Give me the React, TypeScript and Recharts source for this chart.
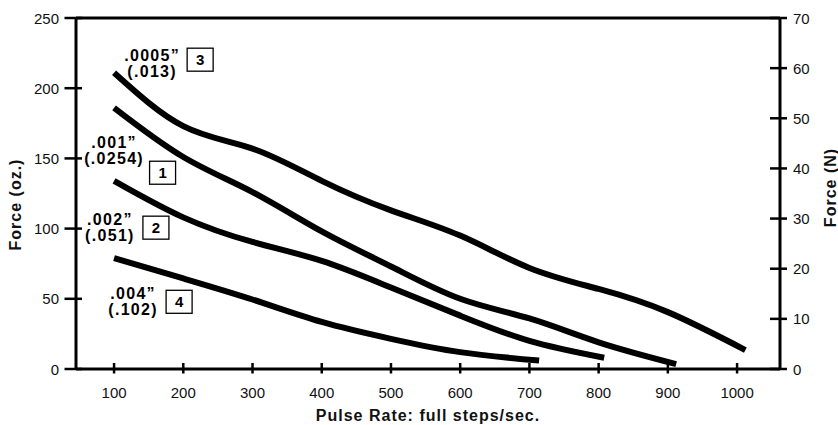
import React from 'react';
import { LineChart, Line, XAxis, YAxis, ReferenceLine, ReferenceDot, Label } from 'recharts';

const FONT = '"Liberation Sans", Arial, Helvetica, sans-serif';

// curve 3 (.0005")
const pulse3 = [100, 200, 300, 400, 500, 600, 700, 800, 900, 1012];
const force3 = [211, 173, 157, 134, 113, 95, 72, 57, 40.5, 13.5];
// curve 1 (.001")
const pulse1 = [100, 200, 300, 400, 500, 600, 700, 800, 912];
const force1 = [186, 151, 126, 98, 73, 50, 36, 19, 3.5];
// curve 2 (.002")
const pulse2 = [100, 200, 300, 400, 500, 600, 700, 808];
const force2 = [134, 108, 90.5, 77, 58, 38, 20, 8];
// curve 4 (.004")
const pulse4 = [100, 200, 300, 400, 500, 600, 714];
const force4 = [79, 64.5, 49.5, 33.5, 21.5, 12, 6];

const xTicks = [100, 200, 300, 400, 500, 600, 700, 800, 900, 1000];
const ozTicks = [0, 50, 100, 150, 200, 250];
const nTicks = [0, 10, 20, 30, 40, 50, 60, 70];
const OZ_TO_N = 0.278;

// curve labels
const labelInch = ['.0005”', '.001”', '.002”', '.004”'];
const labelMm = ['(.013)', '(.0254)', '(.051)', '(.102)'];
const labelNum = ['3', '1', '2', '4'];
const labelPulse = [155, 100, 94, 127.5];
const labelForce = [219.6, 157.6, 102.8, 50];
const boxOffset = [[48, -1], [48.5, 25], [46, 3], [46, 3]];

const toData = (xs: number[], ys: number[]) => xs.map((p, i) => ({ pulse: p, force: ys[i], newton: ys[i] * OZ_TO_N }));
const curves = [toData(pulse3, force3), toData(pulse1, force1), toData(pulse2, force2), toData(pulse4, force4)];

const tickText = { fontFamily: FONT, fontSize: 15, fill: '#111' };
const titleText = { fontFamily: FONT, fontSize: 16, fontWeight: 700, fill: '#111', letterSpacing: 1 };

const LeftTick = ({ x, y, payload }: any) => (
  <g>
    <line x1={x - 11.5} x2={x + 6} y1={y} y2={y} stroke="#000" strokeWidth={2.5} />
    <text x={x - 17} y={y + 5.5} textAnchor="end" {...tickText}>{payload.value}</text>
  </g>
);

const RightTick = ({ x, y, payload }: any) => (
  <g>
    <line x1={x - 10} x2={x + 7} y1={y} y2={y} stroke="#000" strokeWidth={2.5} />
    <text x={x + 13} y={y + 5.5} textAnchor="start" {...tickText}>{payload.value}</text>
  </g>
);

const BottomTick = ({ x, y, payload }: any) => (
  <g>
    <line x1={x} x2={x} y1={y - 6} y2={y + 4.5} stroke="#000" strokeWidth={2.5} />
    <text x={x} y={y + 29} textAnchor="middle" {...tickText}>{payload.value}</text>
  </g>
);

const LeftTitle = ({ viewBox }: any) => {
  const cx = viewBox.x + 15;
  const cy = viewBox.y + viewBox.height / 2 + 11;
  return (
    <text x={cx} y={cy} transform={`rotate(-90, ${cx}, ${cy})`} textAnchor="middle" dominantBaseline="central" {...titleText}>
      Force (oz.)
    </text>
  );
};

const RightTitle = ({ viewBox }: any) => {
  const cx = viewBox.x + 50;
  const cy = viewBox.y + viewBox.height / 2 - 6;
  return (
    <text x={cx} y={cy} transform={`rotate(-90, ${cx}, ${cy})`} textAnchor="middle" dominantBaseline="central" {...titleText}>
      Force (N)
    </text>
  );
};

const BottomTitle = ({ viewBox }: any) => (
  <text x={viewBox.x + viewBox.width / 2} y={viewBox.y + 52} textAnchor="middle" {...titleText}>
    Pulse Rate: full steps/sec.
  </text>
);

const curveLabel = (i: number) => (props: any) => {
  const { cx, cy } = props;
  const [dx, dy] = boxOffset[i];
  const text = { fontFamily: FONT, fontSize: 16, fontWeight: 700, fill: '#000', letterSpacing: 1.3 };
  return (
    <g>
      <text x={cx} y={cy} textAnchor="middle" {...text}>{labelInch[i]}</text>
      <text x={cx} y={cy + 16} textAnchor="middle" {...text}>{labelMm[i]}</text>
      <rect x={cx + dx - 13} y={cy + dy - 11.5} width={26} height={23} fill="#fff" stroke="#000" strokeWidth={1.3} />
      <text x={cx + dx} y={cy + dy + 5.5} textAnchor="middle" fontFamily={FONT} fontSize={15} fontWeight={700} fill="#000">
        {labelNum[i]}
      </text>
    </g>
  );
};

export default function App() {
  return (
    <div style={{ position: 'absolute', left: 0, top: 0, width: 838, height: 425, background: '#fff' }}>
      <LineChart width={838} height={425} margin={{ top: 18, right: 0, bottom: 1, left: 0 }}>
        <XAxis
          dataKey="pulse"
          type="number"
          domain={[45, 1062]}
          ticks={xTicks}
          allowDataOverflow
          height={55}
          axisLine={{ stroke: '#000', strokeWidth: 3 }}
          tickLine={false}
          tickSize={0}
          tickMargin={0}
          tick={<BottomTick />}
          interval={0}
        >
          <Label content={<BottomTitle />} />
        </XAxis>
        <YAxis
          yAxisId="left"
          domain={[0, 250]}
          ticks={ozTicks}
          allowDataOverflow
          width={76}
          axisLine={{ stroke: '#000', strokeWidth: 3 }}
          tickLine={false}
          tickSize={0}
          tickMargin={0}
          tick={<LeftTick />}
          interval={0}
        >
          <Label content={<LeftTitle />} />
        </YAxis>
        <YAxis
          yAxisId="right"
          orientation="right"
          domain={[0, 70]}
          ticks={nTicks}
          allowDataOverflow
          width={58}
          axisLine={{ stroke: '#000', strokeWidth: 3 }}
          tickLine={false}
          tickSize={0}
          tickMargin={0}
          tick={<RightTick />}
          interval={0}
        >
          <Label content={<RightTitle />} />
        </YAxis>
        <ReferenceLine yAxisId="left" y={250} stroke="#000" strokeWidth={3} />
        {/* same curve in newtons, invisible, keeps the right axis alive */}
        <Line
          yAxisId="right"
          data={curves[0]}
          dataKey="newton"
          type="natural"
          stroke="none"
          dot={false}
          activeDot={false}
          legendType="none"
          isAnimationActive={false}
        />
        {curves.map((d, i) => (
          <Line
            key={`curve-${i}`}
            yAxisId="left"
            data={d}
            dataKey="force"
            type="natural"
            stroke="#000"
            strokeWidth={6}
            dot={false}
            activeDot={false}
            isAnimationActive={false}
          />
        ))}
        {labelPulse.map((p, i) => (
          <ReferenceDot key={`lbl-${i}`} yAxisId="left" x={p} y={labelForce[i]} r={0} shape={curveLabel(i)} />
        ))}
      </LineChart>
    </div>
  );
}
